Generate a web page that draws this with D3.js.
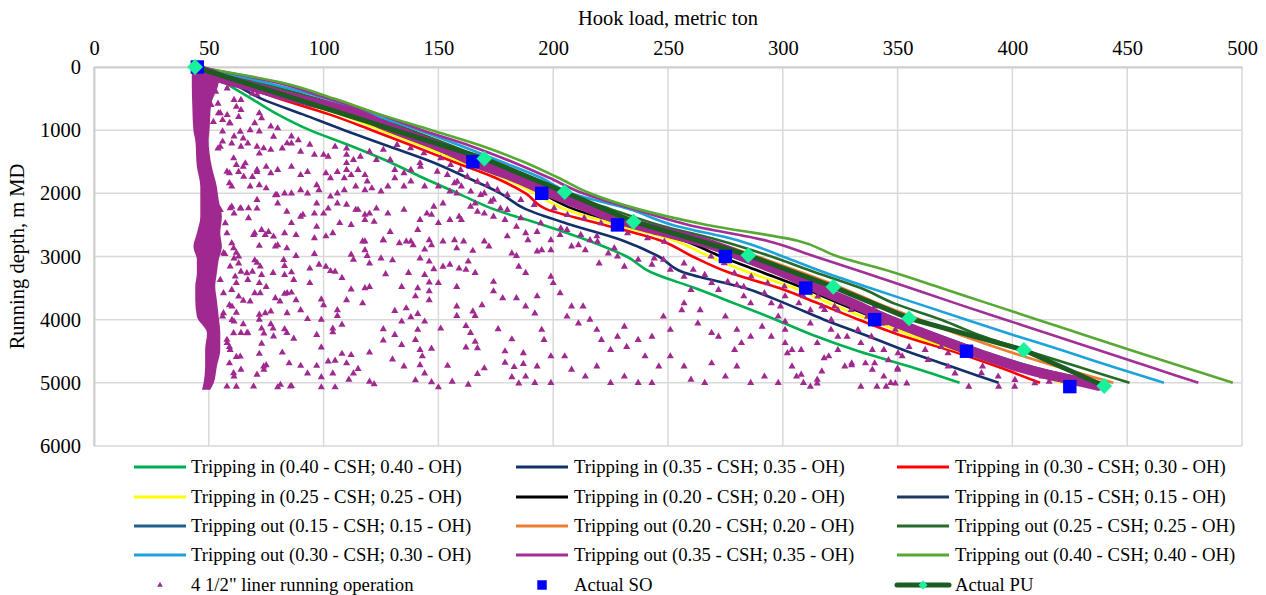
<!DOCTYPE html>
<meta charset="utf-8">
<title>Hook load vs running depth</title>
<script src="https://d3js.org/d3.v7.min.js"></script>
<style>
  body { margin: 0; background: #fff; }
  text { font-family: "Liberation Serif", "Times New Roman", serif; fill: #000; }
</style>
<div id="chart"></div>
<script>

// depth grid (m MD) shared by all model curves
var depthGrid = [0, 250, 500, 750, 1000, 1250, 1500, 1750, 2000, 2250, 2500, 2750, 3000, 3250, 3500, 3750, 4000, 4250, 4500, 4750, 5000];

// hook load (t) of each model curve at depthGrid
var tripIn040  = [45, 57, 68.5, 80, 94, 112, 128.5, 143, 158.5, 174, 195.5, 215.5, 232, 242.6, 261.7, 279.5, 297, 313.6, 333, 356, 377];
var tripIn035  = [45, 60, 72.8, 91, 109, 128, 147, 162.4, 177, 188, 208, 230.5, 246, 256.6, 283.5, 301.6, 318, 336.4, 354, 374, 394];
var tripIn030  = [45, 62, 80.5, 102.5, 121, 139, 156.5, 174.5, 188, 197, 222.4, 247, 260.7, 276.3, 298.4, 316, 333, 351.5, 374, 394, 412];
var tripIn025  = [45, 63, 84, 107, 125, 143, 160, 178, 192, 205, 228, 253, 268, 285, 305, 321, 338, 356, 377, 398, 422];
var tripIn020  = [45, 63.5, 86, 110, 128, 146, 162.5, 181, 195, 209, 232, 257, 273, 291, 309, 325, 342, 360, 380, 401, 428];
var tripIn015  = [45, 64, 87, 112, 130, 148, 164, 182.5, 197, 213, 235, 260, 278, 296, 312, 328, 344, 362, 381, 403, 432];
var tripOut015 = [45, 66, 90, 115, 133, 151, 167, 185, 200, 219, 239, 264, 285, 303, 318, 334, 350, 368, 387, 409, 438];
var tripOut020 = [45, 69, 93, 117, 136, 154, 170, 188, 202, 222, 242, 268, 289, 308, 326, 342, 360, 378, 398, 420, 444];
var tripOut025 = [45, 72, 97, 119, 138, 156, 173, 190, 204, 225, 246, 273, 295, 314, 334, 349, 369, 386, 407, 429, 451];
var tripOut030 = [45, 75, 101, 121, 141.5, 160, 177.5, 194.5, 207.7, 233, 252, 281, 300, 318, 338, 359, 380, 401, 423, 444, 466];
var tripOut035 = [45, 80, 102, 124, 143, 164, 182, 198, 213, 235, 259, 293, 314, 335, 355.5, 376, 397, 418, 439, 460, 481];
var tripOut040 = [45, 82, 104.5, 124.5, 147, 169, 187, 202, 216, 237, 267, 306.5, 324, 348, 369, 390, 411, 432, 453, 474.5, 496];

// actual slack-off and pick-up readings
var soLoad  = [45, 165, 195, 228, 275, 310, 340, 380, 425];
var soDepth = [0, 1500, 2000, 2500, 3000, 3500, 4000, 4500, 5060];
var puLoad  = [44, 170, 205, 235, 285, 322, 355, 405, 440];
var puDepth = [0, 1450, 1980, 2450, 2980, 3480, 3980, 4480, 5050];

// liner running data: dense block-weight column (edges) ...
var stripDepth = [0, 100, 300, 600, 1000, 1155, 1577, 1894, 2104, 2368, 2632, 2843, 3054, 3265, 3476, 3687, 3950, 4214, 4478, 4742, 5005, 5111];
var stripLo    = [43, 42.6, 42.6, 42.8, 43.3, 44.1, 44.8, 46.3, 46.3, 46.3, 44.8, 43.3, 44.8, 44.8, 44.1, 44.1, 44.8, 49.2, 48.4, 48.4, 47.7, 47];
var stripHi    = [49, 55, 54, 51, 50.3, 49.9, 51.3, 53.5, 54.3, 55.7, 55, 55.7, 54.3, 53.5, 52.8, 53.5, 54.3, 55, 55, 53.5, 52.1, 50.6];
// ... dense trend band while running ...
var bandLoad  = [45, 47.6, 56.3, 71.1, 85.5, 99.9, 114.7, 124.8, 154, 168.4, 182.8, 197.6, 212, 226.4, 241.3, 257, 271.8, 286.2, 300.6, 315.4, 329.8, 344.2, 357.3, 372.2, 386.6, 401, 415.8, 430.2, 437.6];
var bandDepth = [0, 63, 190, 332, 475, 601, 744, 902, 1313, 1551, 1741, 1978, 2184, 2389, 2547, 2690, 2848, 3054, 3259, 3513, 3734, 3972, 4161, 4367, 4557, 4731, 4873, 4984, 5047];
// ... and scattered readings [load, depth]
var opPoints = [
  [60,2790],[72,2830],[79,2840],[84,2870],[96,2960],[88,2990],[62,2940],[57,2960],[61,3030],[63,3110],[70,3060],[71,3100],[64,3240],[69,3240],[73,3290],[78,3260],[83,3150],[83,3290],[86,3250],[94,3190],[98,3130],[101,3160],[103,3230],[105,3240],[108,3340],[94,3420],[72,3420],[75,3480],[67,3370],[62,3420],[60,3530],[70,3580],[68,3710],[65,3700],[59,3770],[79,3660],[81,3710],[83,3590],[86,3570],[88,3690],[90,3850],[99,3680],[100,3770],[106,3850],[106,3940],[110,3690],[112,3520],[118,3500],[120,3480],[117,3740],[112,2970],[113,3050],[119,2990],[120,3110],[125,3030],[130,3060],[118,2900],[117,2760],[126,2740],[136,2760],[139,2820],[144,2890],[147,2820],[158,2870],[161,2760],[165,2910],[170,2760],[172,2840],[182,2950],[184,2990],[188,3260],[185,3160],[174,3400],[174,3550],[178,3660],[184,3660],[188,3790],[169,3770],[158,3480],[150,3420],[146,3410],[146,3550],[146,3690],[141,3500],[140,3630],[134,3480],[136,3820],[131,3860],[127,3280],[137,3260],[144,3290],[148,3200],[152,3160],[155,3130],[159,3190],[162,3210],[163,3080],[166,3260],[142,3030],[146,3080],[134,4030],[138,3960],[141,3910],[144,4030],[151,4140],[158,3790],[158,3940],[165,3870],[166,3940],[162,4100],[164,4210],[166,4350],[162,4440],[167,4450],[176,4150],[182,4310],[187,4530],[179,4500],[188,4900],[182,4910],[185,5010],[179,4680],[183,4750],[187,4700],[170,4770],[167,4860],[163,5030],[156,4980],[154,4730],[150,5070],[147,4990],[144,4850],[147,4460],[143,4580],[142,4720],[142,4480],[140,4320],[141,4160],[134,4400],[131,4240],[126,4150],[126,4330],[120,4520],[130,4630],[135,4740],[140,4960],[122,5020],[120,4980],[115,4780],[113,4850],[111,4950],[110,4690],[108,4540],[112,4560],[105,4650],[102,4660],[104,4850],[99,4910],[99,5070],[105,5070],[97,4730],[93,4850],[90,4730],[85,4690],[80,5070],[86,5050],[82,4520],[74,4790],[71,4870],[75,4720],[72,4540],[64,4790],[61,4900],[62,5060],[59,4690],[62,4590],[59,4430],[58,4370],[64,4210],[67,4210],[73,4380],[77,4070],[78,4140],[73,4140],[74,4220],[83,4150],[84,4210],[87,4300],[97,4240],[99,4440],[104,4140],[104,4200],[108,4080],[99,4000],[93,3990],[61,4030],[65,4070],[72,4000],[72,3920],[77,3870],[62,3890],[56,3950],
  [49,180],[53,390],[58,340],[61,520],[64,520],[62,630],[54,580],[51,600],[55,730],[58,760],[52,870],[56,840],[59,890],[63,790],[64,680],[69,420],[71,440],[73,390],[72,730],[70,890],[73,810],[77,940],[72,1020],[80,970],[68,1000],[65,1130],[64,1260],[56,1180],[56,1020],[61,1100],[54,1290],[60,1210],[67,1210],[71,1260],[72,1370],[77,1310],[82,1290],[86,1210],[86,1100],[89,1160],[90,1340],[94,1230],[96,1390],[100,1390],[102,1420],[105,1260],[110,1290],[110,1390],[110,1520],[113,1470],[116,1420],[120,1340],[123,1470],[126,1310],[129,1470],[131,1630],[135,1680],[138,1630],[142,1520],[118,1710],[115,1630],[112,1710],[110,1630],[109,1760],[106,1660],[103,1760],[101,1680],[97,1870],[93,1660],[90,1710],[86,1580],[80,1630],[77,1680],[75,1580],[71,1660],[69,1740],[65,1580],[62,1550],[63,1660],[59,1680],[59,1840],[60,1890],[68,1890],[72,1870],[75,1920],[79,2030],[83,2000],[86,2000],[90,1950],[93,2000],[98,1950],[103,2050],[106,2000],[109,1950],[114,1890],[119,1810],[118,1950],[121,1920],[125,1970],[128,1890],[131,1760],[135,1890],[138,1810],[144,1890],[150,1890],[155,1970],[160,1890],[148,2210],[152,2160],[145,2320],[142,2420],[135,2260],[128,2320],[123,2240],[120,2320],[118,2340],[115,2260],[110,2180],[106,2160],[102,2240],[97,2160],[96,2320],[90,2370],[84,2290],[80,2160],[71,2240],[64,2240],[60,2210],[61,2320],[70,2630],[73,2580],[76,2610],[80,2820],[83,2630],[88,2660],[86,2470],[91,2340],[97,2530],[100,2320],[101,2680],[104,2630],[107,2470],[112,2500],[114,2260],[118,2420],[118,2760],[122,2450],[126,2740],[129,2610],[133,2790],[138,2760],[141,2580],[146,2740],[147,2340],[150,2470],[155,2420],[157,2740],[159,2370],[152,2760],[96,2710],
  [157,1840],[158,2000],[160,2420],[164,2210],[166,2160],[167,2290],[170,2320],[174,2370],[179,2420],[170,2000],[174,2100],[177,2240],[180,2680],[184,2530],[188,2630],[189,2740],[193,2610],[193,2920],[195,2900],[199,2740],[199,2900],[203,2660],[206,2580],[208,2840],[211,2820],[214,2900],[216,2740],[219,2680],[220,3110],[224,2950],[228,3000],[231,3160],[237,3050],[243,3130],[244,3030],[248,3050],[251,3210],[257,3110],[257,3320],[261,3210],[266,3290],[269,3420],[272,3530],[276,3400],[280,3450],[283,3480],[283,3630],[286,3740],[292,3580],[295,3740],[299,3790],[301,3630],[307,3740],[309,3630],[312,3850],[317,3790],[324,3850],[334,3790],[337,3950],[343,4060],[349,4160],[340,3790],
  [199,3320],[200,3420],[193,3630],[192,3900],[195,4160],[196,4320],[203,3580],[208,3790],[206,3950],[211,4060],[213,3790],[216,4000],[219,4160],[221,4320],[225,4480],[228,4270],[231,4110],[232,4430],[237,4320],[240,4580],[243,4270],[248,3950],[251,4160],[256,3850],[257,3740],[260,3530],[263,4060],[264,3850],[269,4210],[272,4270],[275,3950],[279,4480],[280,4160],[282,4370],[286,4270],[291,4110],[295,4270],[298,3950],[301,4160],[304,4480],[308,4480],[312,4060],[315,4370],[320,4580],[324,4270],[330,4690],[334,4370],[339,4790],[344,4480],[350,4790],[347,5000],[341,5060],[336,4690],[327,4740],[315,4950],[309,5000],[304,4740],[298,5000],[292,4900],[286,5000],[280,4740],[275,4900],[269,4690],[266,5000],[260,4950],[257,4740],[251,4580],[246,4740],[243,5000],[237,5000],[231,4900],[225,5000],[219,4740],[214,4900],[208,4790],[205,4580],[199,4580],[193,4740],[192,5000],[199,5000],
  [301,4030],[301,4370],[302,4530],[306,4900],[308,4870],[312,5060],[315,5010],[317,4820],[318,4610],[321,4160],[324,4480],[328,4270],[330,4720],[334,5060],[339,4480],[340,4690],[344,4900],[345,5060],[346,4640],[349,5010],[350,4770],[354,5010],[352,4580],[355,4430],[362,4480],[369,4430],[372,4530],[375,4850],[381,5060],[387,4740],[394,5060],[401,5060],[413,4900],[416,4980],
  [54.2,733],[59.3,891],[63.7,1023],[55,1260],[60.8,1445],[65.9,1524],[73.9,1287],[78.2,1102],[84.1,1208],[57.9,1656],[65.2,1735],[71,1630],[55,2262],[59.3,2236],[63.7,2236],[67.3,2236],[71,2104],[67.3,2394],[79.7,2025],[57.2,2473],[57.9,2632],[69.5,2658],[74.6,2658],[78.2,2684],[56.4,2948],[60.8,2869],[63,3001],[59.3,3159],[61.5,3317],[66.6,3264],[72.4,3159],[55,3370],[56.4,3581],[63,3634],[60.1,3792],[72.4,3581],[84.1,3581],[56.4,3897],[60.1,4003],[60.8,4214],[66.6,4214],[57.9,4319],[59.3,4478],[63.7,4583],[73.9,4741],[60.8,4847],[69.5,5058],[57.9,5058],[81.2,5031],[85.5,5058],[78.2,4266],[84.1,3897],[74.6,3897],[82.6,3054],[87,3370],
  [132,1234],[137.9,1287],[143.7,1366],[151,1445],[155.3,1551],[159.7,1630],[162.6,1735],[167,1814],[171.3,1867],[175.7,1946],[180,2025],[185.9,2104],[191.7,2183],[200.4,2236],[206.2,2342],[213.5,2394],[220.8,2473],[226.6,2553],[232.4,2632],[241.1,2711],[248.4,2764],
  [142.2,1577],[149.5,1656],[153.9,1709],[158.2,1814],[164.1,1972],[168.4,2025],[172.8,2131],[180,2263],[185.9,2394],[194.6,2473],[203.3,2553],[212,2658],[219.3,2764],[226.6,2869],
  [318.2,3845],[321.1,4004],[332.7,4162],[338.6,4267],[350.2,4531],[363.3,4636],[372,4742],[386.5,4847],[393.8,4900],[401.1,4953],[409.8,5006],
  [268.7,3001],[274.5,3106],[278.9,3264],[286.2,3317],[293.4,3423],[300.7,3475],[308,3581],[315.2,3634],[322.5,3792],[329.8,3845],[337,3950],[344.3,4056],
  [123.3,891],[132,997],[137.9,1102],[143.7,1155],[149.5,1234],[155.3,1313]
];

var xTicks = [0, 50, 100, 150, 200, 250, 300, 350, 400, 450, 500];
var yTicks = [0, 1000, 2000, 3000, 4000, 5000, 6000];

var curves = [
  { name: "Tripping in (0.40 - CSH; 0.40 - OH)",  loads: tripIn040,  color: "#00b050" },
  { name: "Tripping in (0.35 - CSH; 0.35 - OH)",  loads: tripIn035,  color: "#13306b" },
  { name: "Tripping in (0.30 - CSH; 0.30 - OH)",  loads: tripIn030,  color: "#ff0000" },
  { name: "Tripping in (0.25 - CSH; 0.25 - OH)",  loads: tripIn025,  color: "#ffff00" },
  { name: "Tripping in (0.20 - CSH; 0.20 - OH)",  loads: tripIn020,  color: "#000000" },
  { name: "Tripping in (0.15 - CSH; 0.15 - OH)",  loads: tripIn015,  color: "#203864" },
  { name: "Tripping out (0.15 - CSH; 0.15 - OH)", loads: tripOut015, color: "#1f5f8b" },
  { name: "Tripping out (0.20 - CSH; 0.20 - OH)", loads: tripOut020, color: "#ed7d31" },
  { name: "Tripping out (0.25 - CSH; 0.25 - OH)", loads: tripOut025, color: "#266b2b" },
  { name: "Tripping out (0.30 - CSH; 0.30 - OH)", loads: tripOut030, color: "#1ea2dc" },
  { name: "Tripping out (0.35 - CSH; 0.35 - OH)", loads: tripOut035, color: "#a02f96" },
  { name: "Tripping out (0.40 - CSH; 0.40 - OH)", loads: tripOut040, color: "#58a834" }
];

var opColor = "#a0298f", soColor = "#0000ff", puLine = "#1b5c20", puMark = "#17f29b";
var serif = "'Liberation Serif', 'Times New Roman', serif";

var margin = {top: 67, right: 24, bottom: 149, left: 94},
    width = 1266 - margin.left - margin.right,
    height = 595 - margin.top - margin.bottom;

var svg = d3.select("#chart")
  .append("svg")
    .attr("width", 1266)
    .attr("height", 595)
    .style("font-family", serif);

var g = svg.append("g")
    .attr("transform", "translate(" + margin.left + "," + margin.top + ")");

var x = d3.scaleLinear().domain([0, 500]).range([0, width]);
var y = d3.scaleLinear().domain([0, 6000]).range([0, height]);

// gridlines
g.selectAll(".vgrid").data(xTicks).enter().append("line")
  .attr("x1", function(d) { return x(d); }).attr("x2", function(d) { return x(d); })
  .attr("y1", 0).attr("y2", height)
  .style("stroke", "#d9d9d9").style("stroke-width", 1.5);
g.selectAll(".hgrid").data(yTicks).enter().append("line")
  .attr("y1", function(d) { return y(d); }).attr("y2", function(d) { return y(d); })
  .attr("x1", 0).attr("x2", width)
  .style("stroke", "#d9d9d9").style("stroke-width", 1.5);

// axes
var xAxis = g.append("g")
  .call(d3.axisTop(x).tickValues(xTicks).tickFormat(d3.format("d")).tickSize(0).tickPadding(12));
xAxis.attr("font-family", null).attr("font-size", null);
xAxis.select(".domain").style("stroke", "#cfcfcf").style("stroke-width", 2);
xAxis.selectAll("text").style("font-family", serif).style("font-size", "20.5px");

var yAxis = g.append("g")
  .call(d3.axisLeft(y).tickValues(yTicks).tickFormat(d3.format("d")).tickSize(0).tickPadding(13));
yAxis.attr("font-family", null).attr("font-size", null);
yAxis.select(".domain").style("stroke", "#cfcfcf").style("stroke-width", 2);
yAxis.selectAll("text").style("font-family", serif).style("font-size", "20.5px");

svg.append("text")
  .attr("x", margin.left + width / 2).attr("y", 25)
  .attr("text-anchor", "middle")
  .style("font-size", "20.5px")
  .text("Hook load, metric ton");

svg.append("text")
  .attr("transform", "translate(24," + (margin.top + height / 2) + ") rotate(-90)")
  .attr("text-anchor", "middle")
  .style("font-size", "20.5px")
  .text("Running depth, m MD");

var plot = g.append("g");

// model curves
var curveLine = d3.line()
  .x(function(d) { return x(d[0]); })
  .y(function(d) { return y(d[1]); })
  .curve(d3.curveMonotoneY);

curves.forEach(function(c) {
  var pts = c.loads.map(function(v, i) { return [v, depthGrid[i]]; });
  plot.append("path")
    .datum(pts)
    .attr("d", curveLine)
    .style("fill", "none")
    .style("stroke", c.color)
    .style("stroke-width", 2.6);
});

// liner running operation
var strip = stripDepth.map(function(d, i) { return {d: d, lo: stripLo[i], hi: stripHi[i]}; });
plot.append("path")
  .datum(strip)
  .attr("d", d3.area()
    .y(function(d) { return y(d.d); })
    .x0(function(d) { return x(d.lo); })
    .x1(function(d) { return x(d.hi); })
    .curve(d3.curveMonotoneY))
  .style("fill", opColor);

plot.append("path")
  .datum(bandLoad.map(function(v, i) { return [v, bandDepth[i]]; }))
  .attr("d", curveLine)
  .style("fill", "none")
  .style("stroke", opColor)
  .style("stroke-width", 10)
  .style("stroke-linecap", "round")
  .style("stroke-linejoin", "round");

var tri = d3.symbol().type(d3.symbolTriangle).size(22);
plot.selectAll(".op").data(opPoints).enter().append("path")
  .attr("d", tri)
  .attr("transform", function(d) { return "translate(" + x(d[0]) + "," + y(d[1]) + ")"; })
  .style("fill", opColor);

// actual pick-up line
var pu = puLoad.map(function(v, i) { return [v, puDepth[i]]; });
plot.append("path")
  .datum(pu)
  .attr("d", d3.line().x(function(d) { return x(d[0]); }).y(function(d) { return y(d[1]); }))
  .style("fill", "none").style("stroke", puLine).style("stroke-width", 5);

// actual slack-off
var sq = d3.symbol().type(d3.symbolSquare).size(180);
plot.selectAll(".so").data(soLoad.map(function(v, i) { return [v, soDepth[i]]; })).enter().append("path")
  .attr("d", sq)
  .attr("transform", function(d) { return "translate(" + x(d[0]) + "," + y(d[1]) + ")"; })
  .style("fill", soColor);

var dia = d3.symbol().type(d3.symbolSquare).size(125);
plot.selectAll(".pu").data(pu).enter().append("path")
  .attr("d", dia)
  .attr("transform", function(d) { return "translate(" + x(d[0]) + "," + y(d[1]) + ") rotate(45)"; })
  .style("fill", puMark);

// legend
var colLine = [134, 516, 897], colText = [191, 574, 955];
var rowY = [467, 497, 526, 555, 585];
var legend = svg.append("g");

curves.forEach(function(c, i) {
  var cx = i % 3, ry = rowY[Math.floor(i / 3)];
  legend.append("line")
    .attr("x1", colLine[cx]).attr("x2", colLine[cx] + 52)
    .attr("y1", ry).attr("y2", ry)
    .style("stroke", c.color).style("stroke-width", 3);
  legend.append("text")
    .attr("x", colText[cx]).attr("y", ry)
    .attr("dy", "0.33em")
    .style("font-size", "18.7px")
    .text(c.name);
});

var lastRow = rowY[4];
legend.append("path")
  .attr("d", d3.symbol().type(d3.symbolTriangle).size(14))
  .attr("transform", "translate(" + (colLine[0] + 26) + "," + lastRow + ")")
  .style("fill", opColor);
legend.append("text").attr("x", colText[0]).attr("y", lastRow).attr("dy", "0.33em")
  .style("font-size", "18.7px").text("4 1/2\" liner running operation");

legend.append("path")
  .attr("d", d3.symbol().type(d3.symbolSquare).size(90))
  .attr("transform", "translate(" + (colLine[1] + 26) + "," + lastRow + ")")
  .style("fill", soColor);
legend.append("text").attr("x", colText[1]).attr("y", lastRow).attr("dy", "0.33em")
  .style("font-size", "18.7px").text("Actual SO");

legend.append("line")
  .attr("x1", colLine[2]).attr("x2", colLine[2] + 52)
  .attr("y1", lastRow).attr("y2", lastRow)
  .style("stroke", puLine).style("stroke-width", 5).style("stroke-linecap", "round");
legend.append("path")
  .attr("d", d3.symbol().type(d3.symbolSquare).size(40))
  .attr("transform", "translate(" + (colLine[2] + 26) + "," + lastRow + ") rotate(45)")
  .style("fill", puMark);
legend.append("text").attr("x", colText[2]).attr("y", lastRow).attr("dy", "0.33em")
  .style("font-size", "18.7px").text("Actual PU");

</script>
